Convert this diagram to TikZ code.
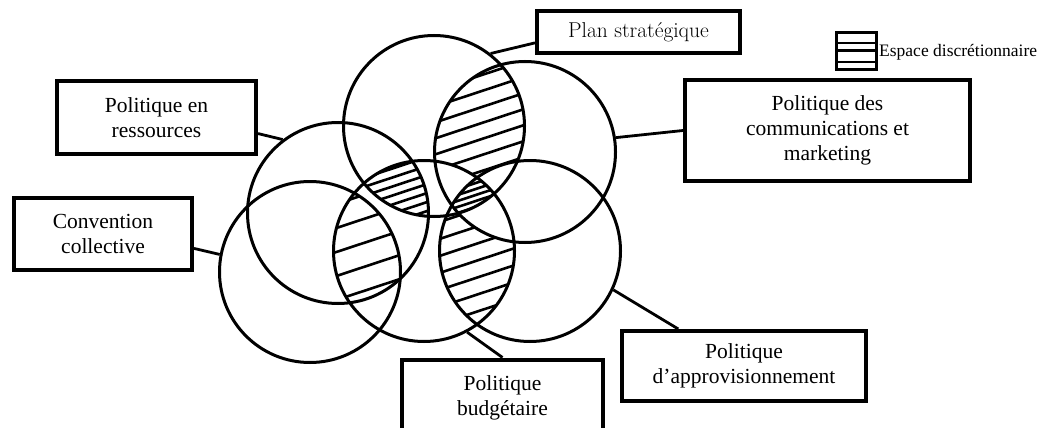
\documentclass[tikz,border=0pt]{standalone}
\usepackage{fontspec}
\newfontfamily\libser{Liberation Serif}
\usetikzlibrary{calc}
\pgfdeclarelayer{bg}
\pgfsetlayers{bg,main}
\newcommand\hatchset[3]{%
  \foreach \k in {0,...,#3}{\draw[hatchline] (200,{#1+\k*#2}) -- (700,{#1+\k*#2-165});}}
\begin{document}
\begin{tikzpicture}[x=1pt,y=-1pt,
  ring/.style={circle, draw, line width=3pt, minimum size=181pt, inner sep=0pt},
  box/.style={draw, fill=white, line width=4pt, inner sep=0pt, align=center, font=\libser\fontsize{21.5}{25}\selectfont},
  link/.style={line width=2.8pt},
  hatchline/.style={line width=2.6pt}]
\useasboundingbox (0,0) rectangle (1055,428);
\clip (0,0) rectangle (1055,428);
\def\R{90.5pt}
% circles
\node[ring] (T) at (434,126) {};
\node[ring] (TR) at (525,152) {};
\node[ring] (L) at (338,213) {};
\node[ring] (B) at (424,251) {};
\node[ring] (BL) at (310,272) {};
\node[ring] (BR) at (530,251) {};
% hatching
\begin{pgfonlayer}{bg}
 \begin{scope}
  \clip (T.center) circle[radius=\R];
  \clip (TR.center) circle[radius=\R];
  \hatchset{136}{16}{13}
  \fill[white] (B.center) circle[radius=\R];
  \fill[white] (BR.center) circle[radius=\R];
 \end{scope}
 \begin{scope}
  \clip (B.center) circle[radius=\R];
  \clip (BR.center) circle[radius=\R];
  \hatchset{267}{17}{10}
  \fill[white] (TR.center) circle[radius=\R];
 \end{scope}
 \begin{scope}
  \clip (T.center) circle[radius=\R];
  \clip (TR.center) circle[radius=\R];
  \clip (B.center) circle[radius=\R];
  \clip (BR.center) circle[radius=\R];
  \hatchset{262}{6}{7}
 \end{scope}
 \begin{scope}
  \clip (T.center) circle[radius=\R];
  \clip (B.center) circle[radius=\R];
  \clip (L.center) circle[radius=\R];
  \hatchset{214}{9}{10}
 \end{scope}
 \begin{scope}
  \clip (B.center) circle[radius=\R];
  \clip (BL.center) circle[radius=\R];
  \clip (L.center) circle[radius=\R];
  \hatchset{225}{24}{7}
 \end{scope}
\end{pgfonlayer}
% boxes
\node[box, minimum width=203pt, minimum height=42pt, font=\fontsize{21.5}{25}\selectfont] (plan) at (638.5,32) {Plan stratégique};
\node[box, minimum width=285pt, minimum height=101pt] (comm) at (827.5,130.5) {Politique des\\communications et\\marketing};
\node[box, minimum width=199pt, minimum height=73pt] (res) at (156.5,117.5) {Politique en\\ressources};
\node[box, minimum width=178pt, minimum height=72pt] (conv) at (103,234) {Convention\\collective};
\node[box, minimum width=201pt, minimum height=76pt] (bud) at (502.5,397.5) {Politique\\budgétaire};
\node[box, minimum width=244pt, minimum height=70pt] (app) at (744,366) {Politique\\d’approvisionnement};
% legend
\node[draw, line width=2.8pt, minimum width=40pt, minimum height=37pt, inner sep=0pt] (legend) at (856.5,51) {};
\draw[line width=2.2pt] ($(legend.north west)!0.3!(legend.south west)$) -- ($(legend.north east)!0.3!(legend.south east)$);
\draw[line width=3pt] ($(legend.north west)!0.5!(legend.south west)$) -- ($(legend.north east)!0.5!(legend.south east)$);
\draw[line width=2.2pt] ($(legend.north west)!0.78!(legend.south west)$) -- ($(legend.north east)!0.78!(legend.south east)$);
\node[anchor=west, inner sep=0pt, font=\libser\fontsize{17.5}{20}\selectfont] (legtxt) at (879,52) {Espace discrétionnaire};
% connectors
\coordinate (appin) at ($(app.north west)!0.235!(app.north east)$);
\draw[link] (T.52) -- (plan.186);
\draw[link] (TR.9) -- (comm.west);
\draw[link] (L.127) -- (res.351);
\draw[link] (BL.169) -- (conv.351);
\draw[link] (B.298) -- (bud.north);
\draw[link] (BR.335) -- (appin);
\end{tikzpicture}
\end{document}
